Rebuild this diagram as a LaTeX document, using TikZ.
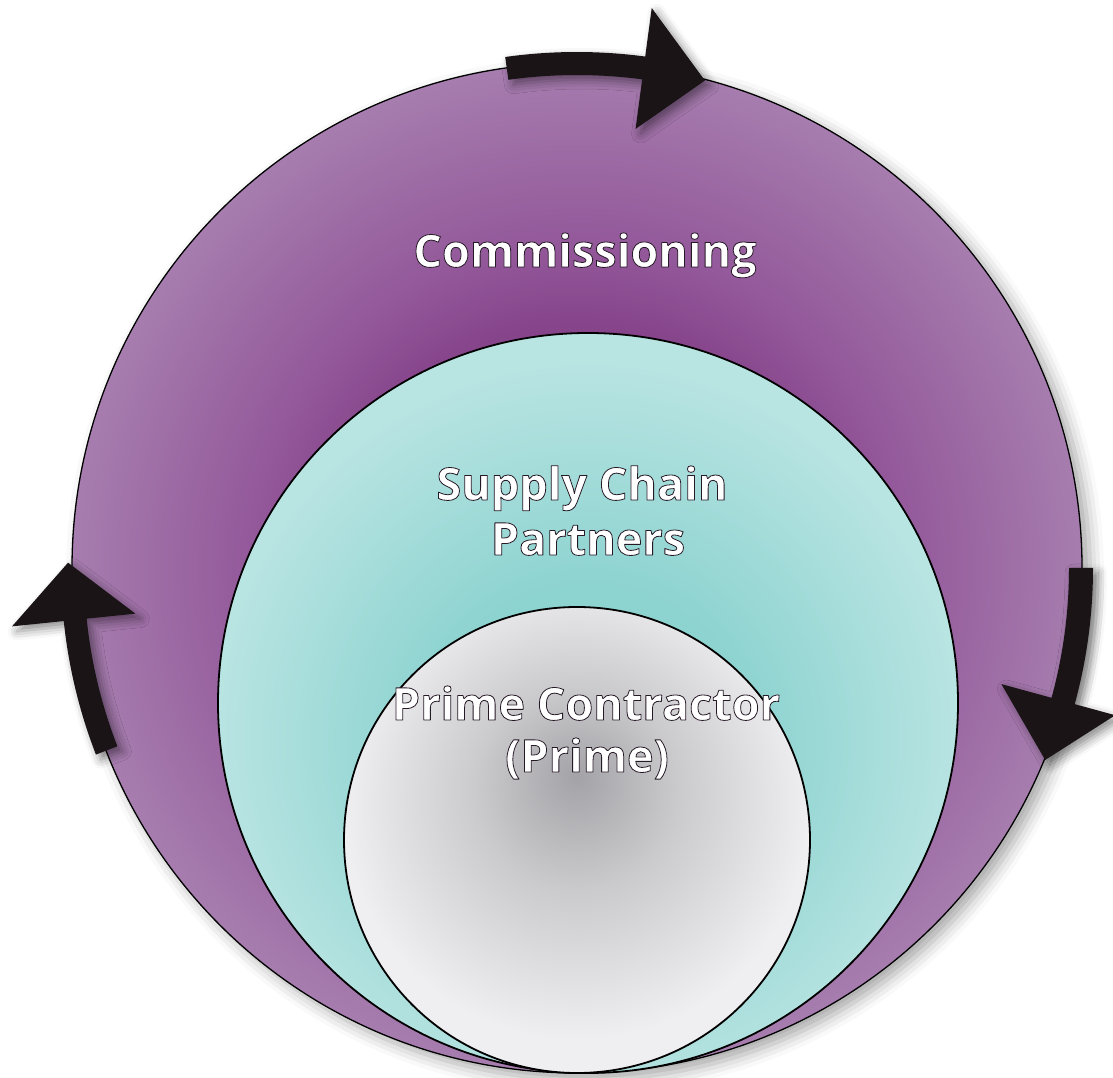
\documentclass[tikz,border=0pt]{standalone}
\usepackage{fontspec}
\setmainfont{Open Sans}
\usetikzlibrary{shadows.blur}
\definecolor{pdark}{HTML}{86448A}
\definecolor{pmid}{HTML}{93589A}
\definecolor{plight}{HTML}{A67DAE}
\definecolor{tdark}{HTML}{8DD3D0}
\definecolor{tlight}{HTML}{B8E4E2}
\definecolor{gdark}{HTML}{A3A3A7}
\definecolor{gmid}{HTML}{CBCBCE}
\definecolor{glight}{HTML}{EFEEF1}
\definecolor{arrowcol}{HTML}{1A1416}
\pgfdeclareradialshading{purpshade}{\pgfpoint{0bp}{0bp}}{color(0bp)=(pdark);color(12bp)=(pdark);color(16bp)=(pmid);color(25bp)=(plight);color(50bp)=(plight)}
\pgfdeclareradialshading{tealshade}{\pgfpoint{0bp}{-4bp}}{color(0bp)=(tdark);color(11bp)=(tdark);color(25bp)=(tlight);color(50bp)=(tlight)}
\pgfdeclareradialshading{greyshade}{\pgfpoint{0bp}{7bp}}{color(0bp)=(gdark);color(11bp)=(gmid);color(25bp)=(glight);color(50bp)=(glight)}
\newcommand\outlined[1]{\special{pdf:literal direct 2 Tr 0.8 w 1 J 1 j 0.15 0.1 0.15 RG}#1\special{pdf:literal direct 0 Tr}}
\begin{document}
\begin{tikzpicture}[x=1pt,y=1pt,
  ring/.style={circle, draw=black, inner sep=0pt, outer sep=0pt},
  arrowshape/.style={fill=arrowcol, blur shadow={shadow xshift=5pt, shadow yshift=-5pt, shadow blur radius=9pt, shadow opacity=45}},
  txt/.style={text=white, font=\bfseries\fontsize{45}{45}\selectfont, inner sep=0pt, anchor=base}]
\useasboundingbox (0,0) rectangle (1113,1077);
% circles
\node[ring, minimum size=1010, line width=1.3pt, shading=purpshade,
  blur shadow={shadow xshift=8pt, shadow yshift=-7pt, shadow blur radius=14pt, shadow opacity=35}] (outer) at (577,509) {};
\node[ring, minimum size=740, line width=1.8pt, shading=tealshade] (middle) at (588,374) {};
\node[ring, minimum size=466, line width=1.8pt, shading=greyshade] (inner) at (577,237) {};
% arrows
\begin{scope}[shift={(577,509)}]
\fill[arrowshape] (98:493) arc[start angle=98,end angle=82.4,radius=493] -- (82.4:443) -- (75.3:504) -- (82.4:565) -- (82.4:516) arc[start angle=82.4,end angle=98,radius=516] -- cycle;
\fill[arrowshape] (0:492) arc[start angle=0,end angle=-15.3,radius=492] -- (-15.3:440) -- (-22.3:506) -- (-15.3:558) -- (-15.3:516) arc[start angle=-15.3,end angle=0,radius=516] -- cycle;
\fill[arrowshape] (201.2:493) arc[start angle=201.2,end angle=185.9,radius=493] -- (185.9:444) -- (179.4:509) -- (185.9:568) -- (185.9:516) arc[start angle=185.9,end angle=201.2,radius=516] -- cycle;
\end{scope}
% labels
\node[txt] (comm) at (585,810) {\outlined{Commissioning}};
\node[txt] (sc1) at (582,577) {\outlined{Supply Chain}};
\node[txt] (sc2) at (588,522) {\outlined{Partners}};
\node[txt] (pc1) at (586,357) {\outlined{Prime Contractor}};
\node[txt] (pc2) at (587,305) {\outlined{(Prime)}};
\end{tikzpicture}
\end{document}
